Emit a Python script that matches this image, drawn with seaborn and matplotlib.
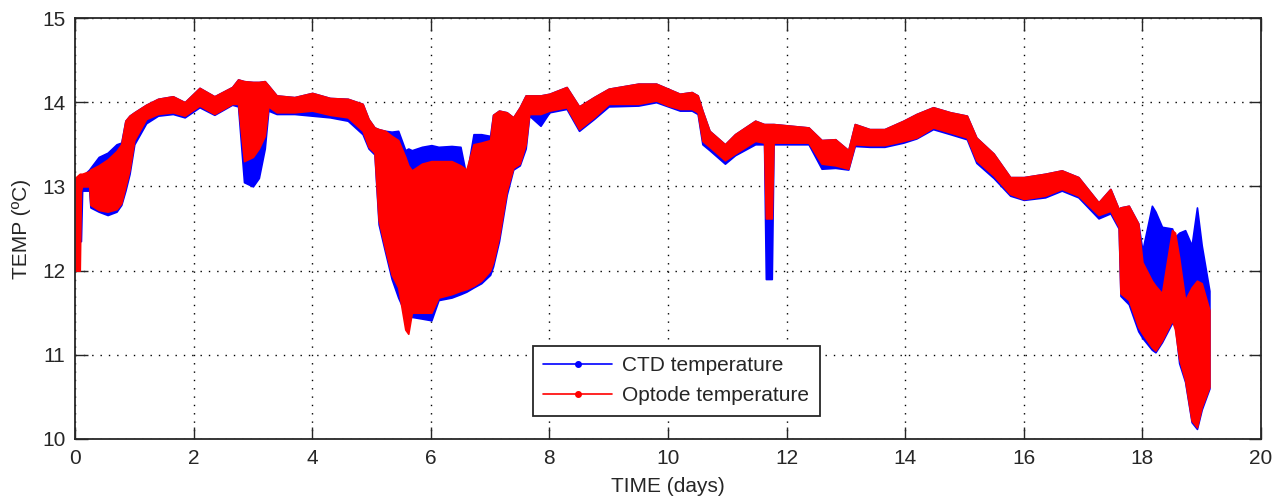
import pandas as pd
import matplotlib
matplotlib.use("Agg")
import matplotlib.pyplot as plt
from matplotlib.lines import Line2D
import seaborn as sns

# envelope of each record (min / max of the plotted stroke)
days = [0.00, 0.08, 0.10, 0.12, 0.24, 0.26, 0.40, 0.55, 0.70, 0.78,
        0.85, 0.92, 1.00, 1.20, 1.40, 1.65, 1.85, 2.10, 2.35, 2.65,
        2.75, 2.85, 3.00, 3.10, 3.20, 3.26, 3.40, 3.70, 4.00, 4.30,
        4.60, 4.85, 4.95, 5.05, 5.12, 5.23, 5.34, 5.45, 5.57, 5.62,
        5.68, 5.85, 6.01, 6.13, 6.35, 6.50, 6.60, 6.72, 6.85, 7.00,
        7.05, 7.15, 7.28, 7.39, 7.50, 7.60, 7.66, 7.85, 8.00, 8.29,
        8.50, 8.75, 9.00, 9.50, 9.80, 10.00, 10.20, 10.40, 10.50, 10.58,
        10.70, 10.96, 11.13, 11.47, 11.62, 11.65, 11.75, 11.78, 12.37, 12.59,
        12.82, 13.04, 13.15, 13.40, 13.65, 13.97, 14.19, 14.47, 14.76, 15.04,
        15.20, 15.49, 15.77, 16.00, 16.36, 16.64, 16.92, 17.26, 17.46, 17.60,
        17.63, 17.77, 17.93, 18.00, 18.16, 18.22, 18.33, 18.50, 18.55, 18.62,
        18.72, 18.83, 18.92, 19.00, 19.13]

ctd_lo = [12.30, 12.35, 12.35, 12.95, 12.95, 12.75, 12.70, 12.66, 12.70, 12.78,
          12.95, 13.15, 13.50, 13.75, 13.84, 13.86, 13.82, 13.94, 13.85, 13.97,
          13.95, 13.05, 13.00, 13.10, 13.45, 13.90, 13.86, 13.86, 13.84, 13.82,
          13.78, 13.62, 13.45, 13.38, 12.55, 12.22, 11.90, 11.68, 11.49, 11.45,
          11.45, 11.43, 11.41, 11.65, 11.68, 11.72, 11.75, 11.80, 11.85, 11.95,
          12.05, 12.35, 12.90, 13.20, 13.25, 13.45, 13.84, 13.72, 13.88, 13.92,
          13.66, 13.80, 13.95, 13.96, 14.00, 13.95, 13.90, 13.90, 13.86, 13.50,
          13.43, 13.27, 13.37, 13.50, 13.50, 11.90, 11.90, 13.50, 13.50, 13.21,
          13.22, 13.20, 13.48, 13.47, 13.47, 13.52, 13.57, 13.68, 13.62, 13.56,
          13.28, 13.10, 12.89, 12.84, 12.87, 12.95, 12.87, 12.62, 12.68, 12.50,
          11.70, 11.60, 11.28, 11.20, 11.06, 11.03, 11.15, 11.38, 11.35, 10.90,
          10.68, 10.20, 10.12, 10.35, 10.60]
ctd_hi = [13.00, 13.10, 13.10, 13.12, 13.20, 13.22, 13.35, 13.40, 13.50, 13.52,
          13.78, 13.84, 13.88, 13.97, 14.04, 14.07, 14.00, 14.17, 14.07, 14.18,
          14.27, 14.25, 14.24, 14.24, 14.25, 14.20, 14.08, 14.06, 14.11, 14.05,
          14.04, 13.98, 13.80, 13.70, 13.68, 13.66, 13.65, 13.66, 13.43, 13.45,
          13.43, 13.47, 13.49, 13.47, 13.48, 13.47, 13.12, 13.62, 13.62, 13.60,
          13.85, 13.90, 13.88, 13.82, 13.94, 14.08, 14.08, 14.08, 14.10, 14.18,
          13.95, 14.06, 14.16, 14.22, 14.22, 14.16, 14.10, 14.12, 14.08, 13.90,
          13.66, 13.50, 13.62, 13.78, 13.74, 13.74, 13.74, 13.74, 13.70, 13.55,
          13.56, 13.43, 13.74, 13.68, 13.68, 13.78, 13.86, 13.94, 13.88, 13.84,
          13.58, 13.39, 13.11, 13.11, 13.15, 13.19, 13.11, 12.81, 12.97, 12.73,
          12.75, 12.77, 12.56, 12.24, 12.77, 12.70, 12.52, 12.50, 12.40, 12.45,
          12.48, 12.30, 12.75, 12.30, 11.76]

opt_lo = [12.00, 12.00, 12.95, 13.00, 13.00, 12.78, 12.72, 12.70, 12.73, 12.80,
          13.00, 13.20, 13.55, 13.80, 13.86, 13.88, 13.84, 13.96, 13.86, 13.98,
          13.98, 13.30, 13.35, 13.45, 13.60, 13.95, 13.88, 13.88, 13.90, 13.85,
          13.82, 13.66, 13.47, 13.40, 12.60, 12.26, 11.95, 11.80, 11.30, 11.25,
          11.50, 11.50, 11.50, 11.68, 11.72, 11.76, 11.78, 11.82, 11.88, 12.00,
          12.10, 12.40, 12.95, 13.22, 13.27, 13.50, 13.86, 13.86, 13.90, 13.94,
          13.68, 13.82, 13.98, 13.98, 14.02, 13.96, 13.92, 13.92, 13.88, 13.54,
          13.47, 13.31, 13.39, 13.54, 13.52, 12.62, 12.62, 13.52, 13.52, 13.27,
          13.25, 13.21, 13.50, 13.49, 13.49, 13.54, 13.58, 13.70, 13.64, 13.58,
          13.31, 13.13, 12.91, 12.85, 12.89, 12.97, 12.89, 12.66, 12.71, 12.52,
          11.73, 11.65, 11.33, 11.25, 11.09, 11.05, 11.17, 11.41, 11.30, 10.95,
          10.70, 10.22, 10.14, 10.38, 10.62]
opt_hi = [13.10, 13.15, 13.15, 13.15, 13.18, 13.20, 13.25, 13.32, 13.42, 13.50,
          13.78, 13.84, 13.88, 13.97, 14.04, 14.07, 14.00, 14.17, 14.07, 14.18,
          14.27, 14.25, 14.24, 14.24, 14.25, 14.20, 14.08, 14.06, 14.11, 14.05,
          14.04, 13.98, 13.80, 13.70, 13.68, 13.66, 13.60, 13.55, 13.35, 13.25,
          13.19, 13.27, 13.30, 13.30, 13.30, 13.25, 13.20, 13.50, 13.52, 13.55,
          13.85, 13.90, 13.88, 13.82, 13.94, 14.08, 14.08, 14.08, 14.10, 14.18,
          13.95, 14.06, 14.16, 14.22, 14.22, 14.16, 14.10, 14.12, 14.08, 13.90,
          13.66, 13.50, 13.62, 13.78, 13.74, 13.74, 13.74, 13.74, 13.70, 13.55,
          13.56, 13.43, 13.74, 13.68, 13.68, 13.78, 13.86, 13.94, 13.88, 13.84,
          13.58, 13.39, 13.11, 13.11, 13.15, 13.19, 13.11, 12.81, 12.97, 12.73,
          12.75, 12.77, 12.56, 12.10, 11.88, 11.82, 11.73, 12.48, 12.45, 12.15,
          11.65, 11.80, 11.88, 11.85, 11.53]

series_names = ["CTD temperature", "Optode temperature"]
series_colors = ["blue", "red"]
x_ticks = list(range(0, 21, 2))
y_ticks = list(range(10, 16))

# long form: two rows (min, max) per time -> lineplot band with pi 100 = min..max
rows = []
for name, lo, hi in [(series_names[0], ctd_lo, ctd_hi), (series_names[1], opt_lo, opt_hi)]:
    for t, a, b in zip(days, lo, hi):
        rows.append({"days": t, "temp": a, "series": name})
        rows.append({"days": t, "temp": b, "series": name})
df = pd.DataFrame(rows)

sns.set_style("ticks")
plt.rcParams["font.family"] = ["Liberation Sans", "DejaVu Sans"]

fig = plt.figure(figsize=(12.83, 5.01), dpi=100)
ax = fig.add_axes([75 / 1283, 62 / 501, 1186 / 1283, 421 / 501])

# center line hidden, only the min..max band is shown
sns.lineplot(data=df, x="days", y="temp", hue="series", hue_order=series_names,
             palette=dict(zip(series_names, series_colors)),
             estimator="mean", errorbar=("pi", 100), linewidth=0,
             err_kws={"alpha": 1, "linewidth": 1.2}, legend=False, ax=ax)

ax.set_xlim(0, 20)
ax.set_ylim(10, 15)
ax.set_xticks(x_ticks)
ax.set_yticks(y_ticks)
ax.grid(True, color="black", linestyle=(0, (1, 5)), linewidth=1.0)
ax.set_axisbelow(True)
for s in ax.spines.values():
    s.set_visible(True)
    s.set_color("#262626")
    s.set_linewidth(1.3)
ax.tick_params(direction="in", length=9, width=1, top=True, right=True,
               labelsize=15, pad=7, colors="#262626")
ax.set_xlabel("TIME (days)", fontsize=15, color="#262626", labelpad=7)
ax.set_ylabel("TEMP (ºC)", fontsize=15, color="#262626", labelpad=8)

handles = [Line2D([], [], color=c, marker=".", markersize=8, linewidth=1.2)
           for c in series_colors]
leg = ax.legend(handles, series_names, loc="lower left", bbox_to_anchor=(0.386, 0.055),
                borderaxespad=0, fontsize=15, frameon=True, fancybox=False, framealpha=1,
                edgecolor="#262626", handlelength=3.3, labelspacing=0.55,
                borderpad=0.5, handletextpad=0.5)
leg.get_frame().set_linewidth(1.3)

fig.savefig("out.png", dpi=100)
